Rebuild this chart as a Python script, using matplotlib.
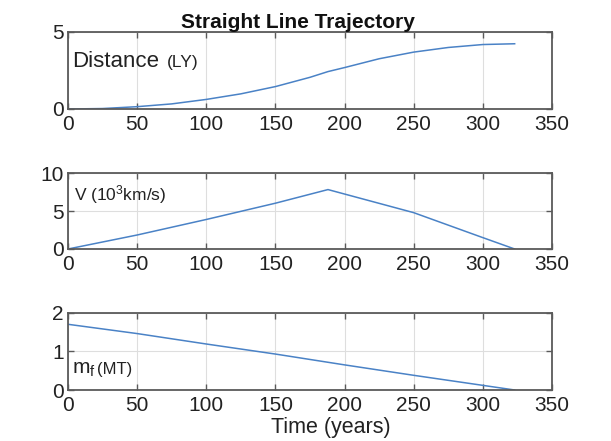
import matplotlib
matplotlib.use("Agg")
import matplotlib.pyplot as plt

plt.rcParams['font.family'] = ['Liberation Sans', 'DejaVu Sans']
plt.rcParams['mathtext.fontset'] = 'custom'
plt.rcParams['mathtext.rm'] = 'Liberation Sans'
plt.rcParams['mathtext.it'] = 'Liberation Sans:italic'
plt.rcParams['mathtext.bf'] = 'Liberation Sans:bold'

# Data
t_dist = [0, 25, 50, 75, 100, 125, 150, 175, 188, 200, 225, 250, 275, 300, 323]
dist = [0.0, 0.03, 0.15, 0.33, 0.62, 0.98, 1.45, 2.05, 2.42, 2.68, 3.25, 3.68, 3.98, 4.17, 4.22]

t_vel = [0, 50, 100, 150, 188, 250, 300, 323]
vel = [0.0, 1.85, 3.9, 6.05, 7.85, 4.8, 1.5, 0.0]

t_mass = [0, 50, 100, 150, 200, 250, 300, 323]
mass = [1.7, 1.46, 1.19, 0.93, 0.65, 0.38, 0.12, 0.0]

xticks = [0, 50, 100, 150, 200, 250, 300, 350]
yticks_top = [0, 5]
yticks_mid = [0, 5, 10]
yticks_bot = [0, 1, 2]

W, H = 611, 441
fig = plt.figure(figsize=(W / 100, H / 100), dpi=100)

left = 68 / W
width = 484 / W
panels = [(31.7, 109), (173.3, 249), (312.7, 390)]

line_color = '#4a82c6'
frame_color = '#5a5a5a'
grid_color = '#dedede'
text_color = '#222222'


def fx(px):
    return px / W


def fy(py):
    return 1 - py / H


axes = []
for (top, bot) in panels:
    ax = fig.add_axes([left, 1 - bot / H, width, (bot - top) / H])
    axes.append(ax)

data = [(t_dist, dist, yticks_top), (t_vel, vel, yticks_mid), (t_mass, mass, yticks_bot)]
for ax, (tx, ty, yt) in zip(axes, data):
    ax.plot(tx, ty, color=line_color, lw=1.1)
    ax.set_xlim(0, 350)
    ax.set_ylim(yt[0], yt[-1])
    ax.set_xticks(xticks)
    ax.set_yticks(yt)
    ax.grid(True, color=grid_color, lw=0.8)
    ax.set_axisbelow(True)
    for s in ax.spines.values():
        s.set_color(frame_color)
        s.set_linewidth(1.3)
    ax.tick_params(direction='in', top=True, right=True, length=4, width=1,
                   color=frame_color, labelsize=15, labelcolor=text_color)
    ax.tick_params(axis='x', pad=4.5)
    ax.tick_params(axis='y', pad=3)

# Title
fig.text(fx(297.5), fy(28), 'Straight Line Trajectory', fontsize=15, fontweight='bold',
         color='#111111', ha='center', va='baseline')

# In-axes labels
fig.text(fx(72), fy(67), 'Distance', fontsize=16, color=text_color,
         ha='left', va='baseline')
fig.text(fx(167), fy(67), '(LY)', fontsize=12.5, color=text_color,
         ha='left', va='baseline')
fig.text(fx(74), fy(200), r'V (10$^{3}$km/s)', fontsize=12.5, color=text_color,
         ha='left', va='baseline')
fig.text(fx(72.5), fy(374), r'm$_{\mathrm{f}}$', fontsize=15, color=text_color,
         ha='left', va='baseline')
fig.text(fx(97.5), fy(374), '(MT)', fontsize=12, color=text_color,
         ha='left', va='baseline')

# X label
fig.text(fx(331), fy(433), 'Time (years)', fontsize=15.5, color=text_color,
         ha='center', va='baseline')

fig.savefig('out.png', dpi=100)
